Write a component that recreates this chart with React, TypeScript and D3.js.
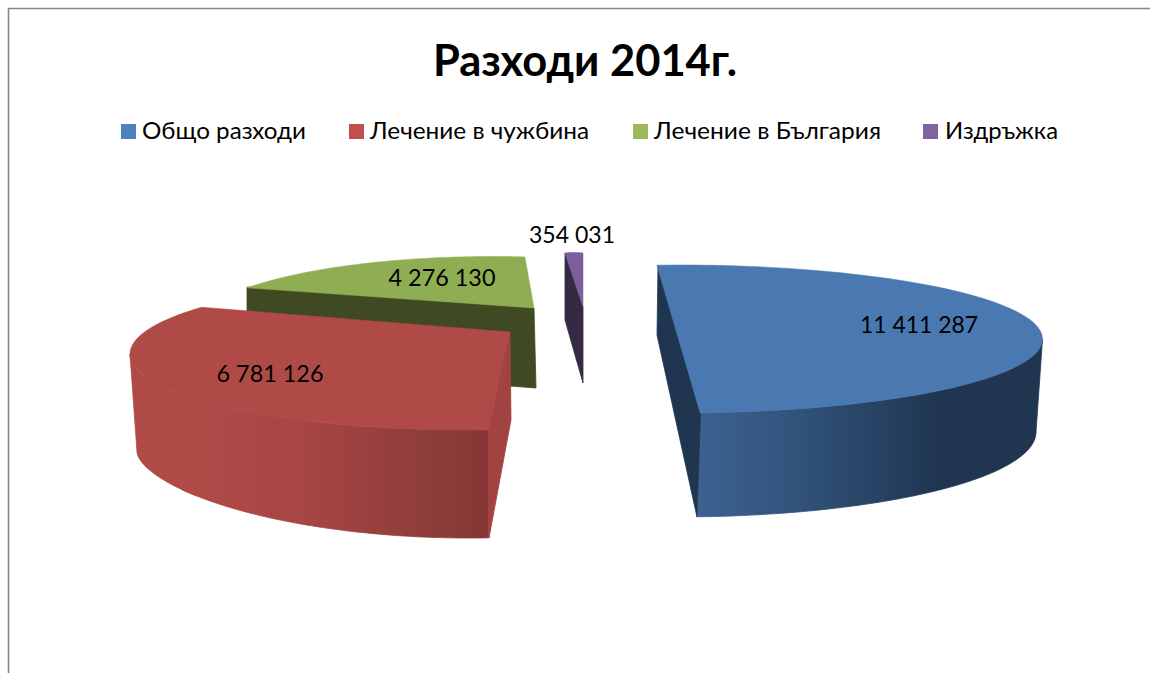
import React from "react";
import * as d3 from "d3";

const titleText = "Разходи 2014г.";
const categories = ["Общо разходи", "Лечение в чужбина", "Лечение в България", "Издръжка"];
const values = [11411287, 6781126, 4276130, 354031];
const valueLabels = ["11 411 287", "6 781 126", "4 276 130", "354 031"];

const FONT = "Lato, 'Open Sans', sans-serif";
const legendColors = ["#4f81bd", "#c0504d", "#9bbb59", "#8064a2"];
const legendSwatchX = [121, 349, 633, 923];
const legendTextX = [142, 370, 654, 945];
const legendTextW = [164, 219, 227, 113];
const labelPos = [[919, 325], [270, 374], [442, 278], [572, 235]];
const labelW = [118, 107, 107, 86];

type E = { cx: number; cy: number; rx: number; ry: number; p?: number };
type P = [number, number];
type Geo = {
  top: E; bottom: E | null; t0: number; t1: number; apex: P;
  visibleSide?: [number, number];
  solidSide?: [number, number];
  topFill: string; sideFill?: string;
  faces: { pts: P[]; fill: string }[];
};

// Perspective projection of each exploded slice; the slice's angular span from d3.pie is mapped
// on to the parametric angle of its projected ellipse.
const geometry: Geo[] = [
  {
    top: { cx: 678.5, cy: 339, rx: 364, ry: 74 }, bottom: { cx: 676, cy: 432, rx: 360, ry: 85 },
    t0: -93.4, t1: 86.6, apex: [678.5, 339], visibleSide: [0, 86.6],
    topFill: "#4a78b0", sideFill: "url(#gBlue)",
    faces: [{ pts: [[658, 265], [657, 335], [697, 517], [700.5, 413]], fill: "#1f3550" }],
  },
  {
    top: { cx: 468, cy: 354, rx: 338, ry: 76 }, bottom: { cx: 469, cy: 452, rx: 332, ry: 86, p: 1.2 },
    t0: 86.6, t1: 218, apex: [510, 332], visibleSide: [86.6, 150], solidSide: [145, 180],
    topFill: "#af4a47", sideFill: "url(#gRed)",
    faces: [{ pts: [[510, 332], [488, 430], [489, 538], [511, 420]], fill: "#a24341" }],
  },
  {
    top: { cx: 492, cy: 330.5, rx: 300, ry: 74 }, bottom: null,
    t0: 215.2, t1: 276.3, apex: [534, 308],
    topFill: "#8fae53",
    faces: [{ pts: [[247, 287], [534, 308], [536, 388], [247, 366]], fill: "#404a22" }],
  },
  {
    top: { cx: 574, cy: 253, rx: 9, ry: 0.5 }, bottom: null,
    t0: 180, t1: 360, apex: [583, 307],
    topFill: "#7d5f9b",
    faces: [{ pts: [[565, 253], [583, 307], [583, 383], [565, 320]], fill: "#352a44" }],
  },
];
const drawOrder = [2, 3, 0, 1];

const pieArcs = d3.pie<number>().sort(null)(values);
const linePath = d3.line();
const toRad = (d: number) => (d * Math.PI) / 180;
const onEllipse = (e: E, deg: number): P => {
  const s = Math.sin(toRad(deg));
  return [e.cx + e.rx * Math.cos(toRad(deg)), e.cy + e.ry * Math.sign(s) * Math.pow(Math.abs(s), e.p ?? 1)];
};
const sample = (e: E, scale: (a: number) => number, a0: number, a1: number): P[] =>
  d3.range(0, 61).map((i) => onEllipse(e, scale(a0 + ((a1 - a0) * i) / 60)));

export default function App() {
  return (
    <svg width={1150} height={673} viewBox="0 0 1150 673" style={{ position: "absolute", left: 0, top: 0, background: "#fff" }} fontFamily={FONT}>
      <defs>
        <linearGradient id="gBlue" gradientUnits="userSpaceOnUse" x1={697} x2={1036} y1={0} y2={0}>
          <stop offset="0" stopColor="#3d6290" />
          <stop offset="0.3" stopColor="#31527a" />
          <stop offset="0.72" stopColor="#1f3550" />
          <stop offset="1" stopColor="#1f3550" />
        </linearGradient>
        <linearGradient id="gRed" gradientUnits="userSpaceOnUse" x1={130} x2={489} y1={0} y2={0}>
          <stop offset="0" stopColor="#af4a47" />
          <stop offset="0.22" stopColor="#af4a47" />
          <stop offset="0.5" stopColor="#a64543" />
          <stop offset="0.82" stopColor="#8e3d3b" />
          <stop offset="1" stopColor="#853635" />
        </linearGradient>
      </defs>
      <path d="M8.5,673 V8.5 H1150" fill="none" stroke="#868686" strokeWidth={1.6} />
      <text x={585} y={76} textAnchor="middle" fontSize={44} fontWeight={700} fill="#000" textLength={304} lengthAdjust="spacingAndGlyphs">{titleText}</text>
      {categories.map((c, i) => (
        <g key={c}>
          <rect x={legendSwatchX[i]} y={124} width={15} height={15} fill={legendColors[i]} />
          <text x={legendTextX[i]} y={139} fontSize={24} fill="#000" textLength={legendTextW[i]} lengthAdjust="spacingAndGlyphs">{c}</text>
        </g>
      ))}
      {drawOrder.map((i) => {
        const g = geometry[i];
        const arc = pieArcs[i];
        const scale = d3.scaleLinear().domain([arc.startAngle, arc.endAngle]).range([g.t0, g.t1]);
        const inv = scale.invert;
        const topPts = sample(g.top, scale, arc.startAngle, arc.endAngle);
        const topFace = linePath([g.apex, ...topPts])! + "Z";
        const band = (range?: [number, number]) => {
          if (!g.bottom || !range) return null;
          const a0 = inv(range[0]);
          const a1 = inv(range[1]);
          return linePath([...sample(g.top, scale, a0, a1), ...sample(g.bottom, scale, a0, a1).reverse()])! + "Z";
        };
        const solid = band(g.solidSide);
        const side = band(g.visibleSide);
        return (
          <g key={i}>
            {solid && <path d={solid} fill={g.topFill} stroke={g.topFill} strokeWidth={0.8} />}
            {side && <path d={side} fill={g.sideFill} stroke={g.sideFill} strokeWidth={0.8} />}
            {g.faces.map((f, k) => <path key={k} d={linePath(f.pts)! + "Z"} fill={f.fill} stroke={f.fill} strokeWidth={0.8} />)}
            <path d={topFace} fill={g.topFill} stroke={g.topFill} strokeWidth={0.5} />
          </g>
        );
      })}
      {valueLabels.map((l, i) => (
        <text key={l} x={labelPos[i][0]} y={labelPos[i][1] + 8} textAnchor="middle" fontSize={24} fill="#000" textLength={labelW[i]} lengthAdjust="spacingAndGlyphs">{l}</text>
      ))}
    </svg>
  );
}
